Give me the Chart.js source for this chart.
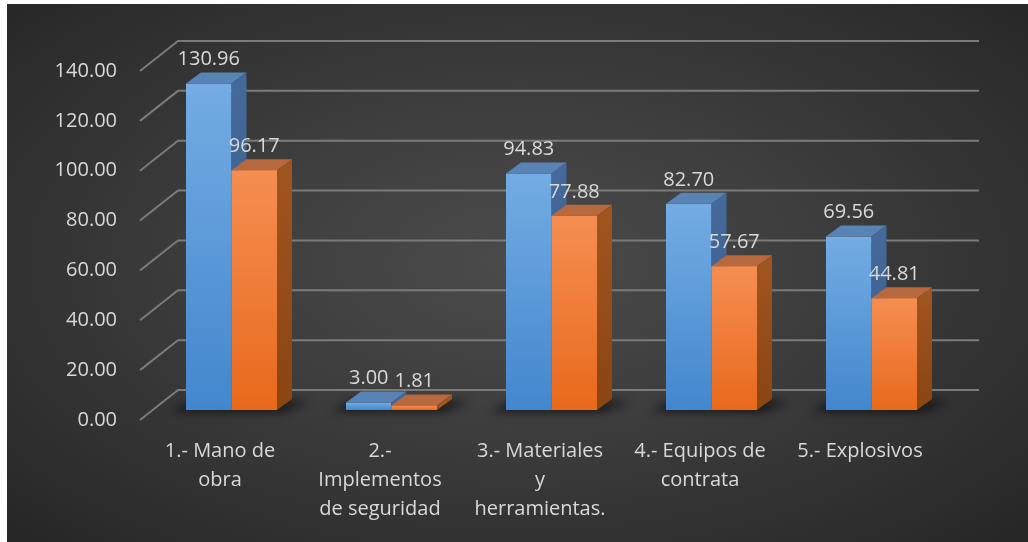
<!DOCTYPE html>
<html>
<head>
<meta charset="utf-8">
<script src="https://cdn.jsdelivr.net/npm/chart.js@4.4.0/dist/chart.umd.min.js"></script>
<style>
  html, body { margin: 0; padding: 0; background: #fff; }
  #marco {
    position: absolute; left: 7px; top: 4px; width: 1021px; height: 538px;
    background: radial-gradient(ellipse at 50% 48%, #4b4b4b 0%, #3c3c3c 45%, #262626 100%);
  }
</style>
</head>
<body>
<div id="marco"><canvas id="grafico"></canvas></div>
<script>
var categorias = [
    ['1.- Mano de', 'obra'],
    ['2.-', 'Implementos', 'de seguridad'],
    ['3.- Materiales', 'y', 'herramientas.'],
    ['4.- Equipos de', 'contrata'],
    ['5.- Explosivos']
];
var serie1 = [130.96, 3.00, 94.83, 82.70, 69.56];
var serie2 = [96.17, 1.81, 77.88, 57.67, 44.81];
var ticksY = [0, 20, 40, 60, 80, 100, 120, 140];

// desplazamiento de las barras hacia el fondo del piso
var DESP_X = 11.5, DESP_Y = -10;
// profundidad de cada barra
var PROF_X = 15, PROF_Y = -11;
// pared del fondo
var FONDO_X = 38, FONDO_Y = -30;

var colores = [
    { arriba: '#74ace3', abajo: '#4287cd', tapa: '#5883b5', lado: '#44699a', ladoOsc: '#3a5d88' },
    { arriba: '#f58e52', abajo: '#e8691b', tapa: '#b8693e', lado: '#a0541f', ladoOsc: '#8a4512' }
];

function degradado(c, i) {
    var chart = c.chart;
    if (!chart.chartArea) return colores[i].abajo;
    var y = chart.scales.y;
    var g = chart.ctx.createLinearGradient(0, y.getPixelForValue(c.raw), 0, y.getPixelForValue(0));
    g.addColorStop(0, colores[i].arriba);
    g.addColorStop(1, colores[i].abajo);
    return g;
}

function caras(ctx, bar, col) {
    var p = bar.getProps(['x', 'y', 'base', 'width'], true);
    var x0 = p.x - p.width / 2, x1 = p.x + p.width / 2;
    // tapa
    ctx.fillStyle = col.tapa;
    ctx.beginPath();
    ctx.moveTo(x0, p.y);
    ctx.lineTo(x1, p.y);
    ctx.lineTo(x1 + PROF_X, p.y + PROF_Y);
    ctx.lineTo(x0 + PROF_X, p.y + PROF_Y);
    ctx.closePath();
    ctx.fill();
    // lado
    var g = ctx.createLinearGradient(0, p.y, 0, p.base);
    g.addColorStop(0, col.lado);
    g.addColorStop(1, col.ladoOsc);
    ctx.fillStyle = g;
    ctx.beginPath();
    ctx.moveTo(x1, p.y);
    ctx.lineTo(x1 + PROF_X, p.y + PROF_Y);
    ctx.lineTo(x1 + PROF_X, p.base + PROF_Y);
    ctx.lineTo(x1, p.base);
    ctx.closePath();
    ctx.fill();
}

var caja3d = {
    id: 'caja3d',
    beforeDatasetsDraw: function(chart) {
        var ctx = chart.ctx, a = chart.chartArea, y = chart.scales.y;
        ctx.save();
        ctx.strokeStyle = '#7b7b7b';
        ctx.lineWidth = 2;
        ticksY.forEach(function(v) {
            var py = y.getPixelForValue(v);
            ctx.beginPath();
            ctx.moveTo(a.left, py);
            ctx.lineTo(a.left + FONDO_X, py + FONDO_Y);
            ctx.lineTo(a.right + FONDO_X + 1, py + FONDO_Y);
            ctx.stroke();
        });
        ctx.restore();

        ctx.save();
        ctx.translate(DESP_X, DESP_Y);
        // sombra de cada grupo sobre el piso
        var m0 = chart.getDatasetMeta(0), m1 = chart.getDatasetMeta(1);
        ctx.save();
        ctx.filter = 'blur(5px)';
        ctx.fillStyle = 'rgba(0,0,0,0.6)';
        m0.data.forEach(function(b0, j) {
            var b1 = m1.data[j];
            var izq = b0.x - b0.width / 2, der = b1.x + b1.width / 2;
            ctx.beginPath();
            ctx.moveTo(izq - 14, b0.base + 2);
            ctx.lineTo(der + 6, b0.base + 2);
            ctx.lineTo(der + PROF_X + 18, b0.base + PROF_Y + 2);
            ctx.lineTo(izq + 4, b0.base + PROF_Y + 2);
            ctx.closePath();
            ctx.fill();
        });
        ctx.restore();
    },
    afterDatasetsDraw: function(chart) {
        var ctx = chart.ctx;
        [0, 1].forEach(function(i) {
            chart.getDatasetMeta(i).data.forEach(function(bar) {
                if (i === 1) bar.draw(ctx);
                caras(ctx, bar, colores[i]);
            });
        });
        ctx.restore();

        // valores sobre las barras
        ctx.save();
        ctx.font = '20px "Open Sans"';
        ctx.fillStyle = '#d9d9d9';
        ctx.textAlign = 'center';
        ctx.textBaseline = 'middle';
        [0, 1].forEach(function(i) {
            var datos = chart.data.datasets[i].data;
            chart.getDatasetMeta(i).data.forEach(function(bar, j) {
                ctx.fillText(datos[j].toFixed(2), bar.x + DESP_X, bar.y + DESP_Y - 24);
            });
        });
        ctx.restore();
    }
};

var ctx = document.getElementById('grafico').getContext('2d');
var grafico = new Chart(ctx, {
    type: 'bar',
    data: {
        labels: categorias,
        datasets: [{
            label: 'Serie 1',
            data: serie1,
            backgroundColor: function(c) { return degradado(c, 0); },
            clip: false
        }, {
            label: 'Serie 2',
            data: serie2,
            backgroundColor: function(c) { return degradado(c, 1); },
            clip: false
        }]
    },
    options: {
        responsive: true,
        maintainAspectRatio: false,
        animation: false,
        categoryPercentage: 0.56875,
        barPercentage: 1,
        layout: { padding: { left: 0, right: 88, top: 67, bottom: 0 } },
        plugins: {
            legend: { display: false },
            tooltip: { enabled: false }
        },
        scales: {
            x: {
                grid: { display: false, drawTicks: false },
                border: { display: false },
                ticks: {
                    color: '#d9d9d9',
                    font: { family: 'Open Sans', size: 20, lineHeight: 1.45 },
                    padding: 17,
                    maxRotation: 0,
                    autoSkip: false
                },
                afterFit: function(s) { s.height = 122; }
            },
            y: {
                min: 0,
                max: 140,
                grid: { display: false, drawTicks: false },
                border: { display: false },
                ticks: {
                    color: '#d9d9d9',
                    font: { family: 'Open Sans', size: 20 },
                    padding: 23,
                    callback: function(v) { return v.toFixed(2); }
                },
                afterBuildTicks: function(s) {
                    s.ticks = ticksY.map(function(v) { return { value: v }; });
                },
                afterFit: function(s) { s.width = 133; }
            }
        }
    },
    plugins: [caja3d]
});
</script>
</body>
</html>
